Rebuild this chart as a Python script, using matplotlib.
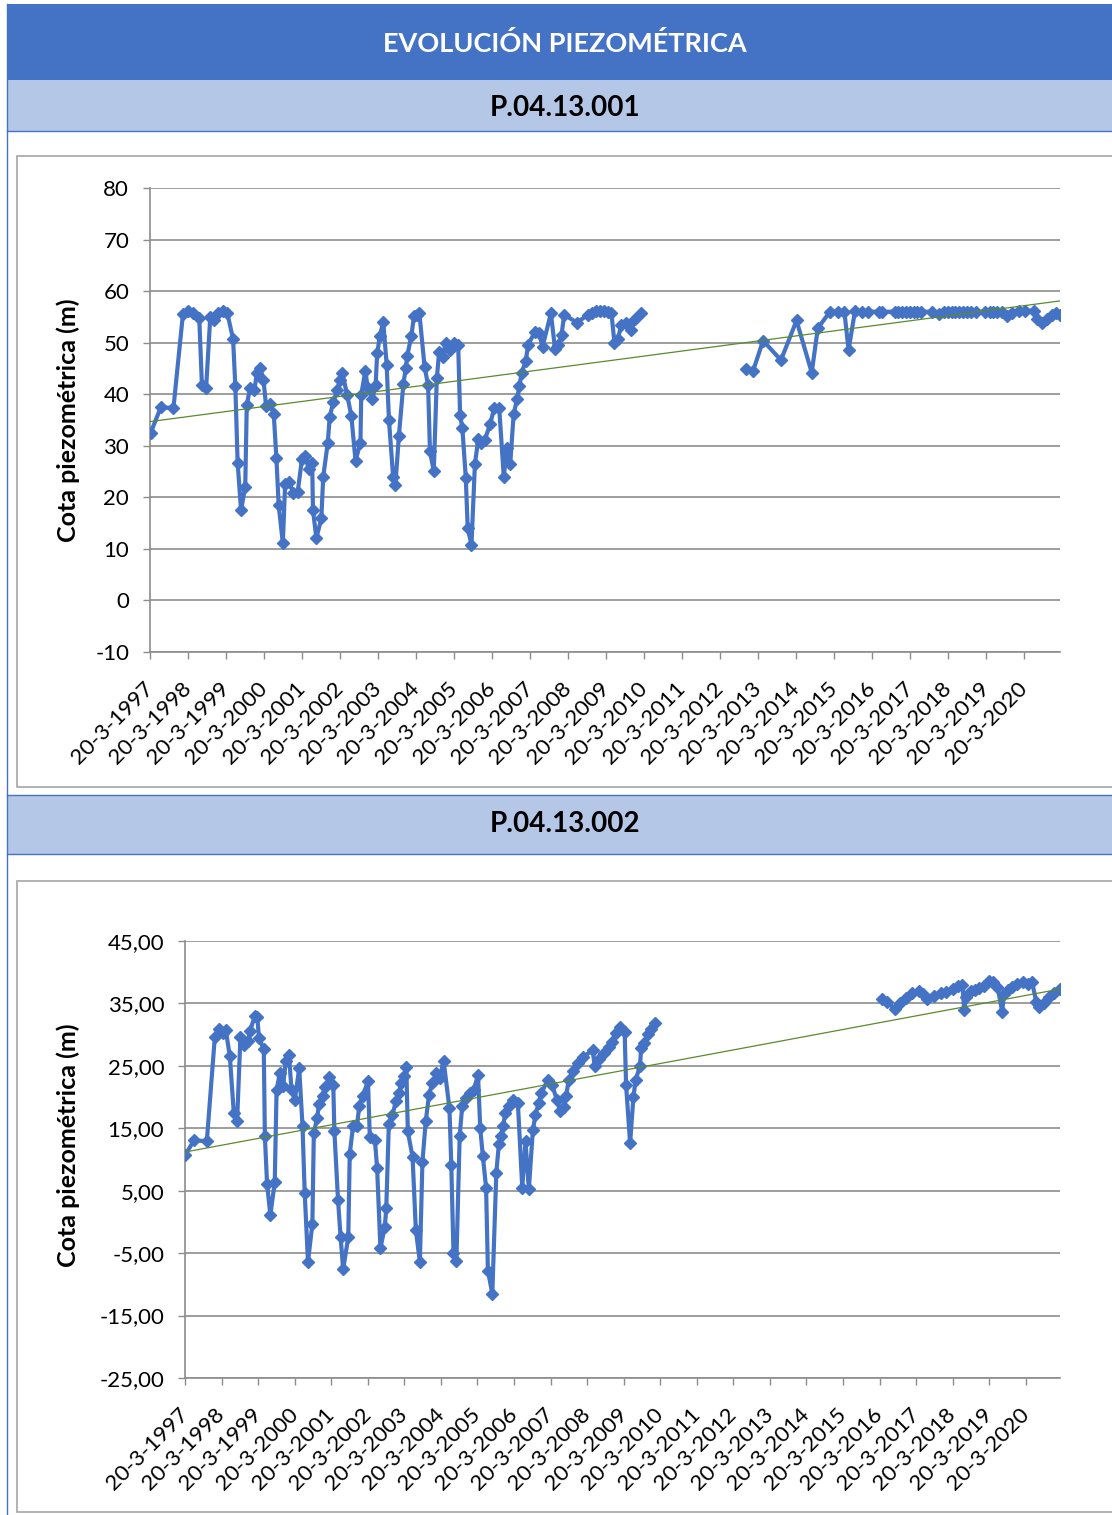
import numpy as np
import pandas as pd
import matplotlib
matplotlib.use("Agg")
import matplotlib.pyplot as plt
from matplotlib.patches import Rectangle

plt.rcParams['font.family'] = ['Lato', 'DejaVu Sans']

titulo = "EVOLUCIÓN PIEZOMÉTRICA"
pozos = ["P.04.13.001", "P.04.13.002"]
etiqueta_y = "Cota piezométrica (m)"

# fechas en año decimal (nan = hueco sin datos)
anos_1 = [1997.23, 1997.50, 1997.83, 1998.08, 1998.22, 1998.34, 1998.51, 1998.58, 1998.69, 1998.80,
          1998.90, 1998.99, 1999.13, 1999.25, 1999.40, 1999.46, 1999.52, 1999.61, 1999.72, 1999.76,
          1999.85, 1999.96, 2000.03, 2000.10, 2000.20, 2000.27, 2000.38, 2000.47, 2000.54, 2000.60,
          2000.71, 2000.77, 2000.86, 2000.99, 2001.10, 2001.21, 2001.30, 2001.39, 2001.48, 2001.50,
          2001.59, 2001.72, 2001.77, 2001.89, 2001.94, 2002.03, 2002.14, 2002.21, 2002.27, 2002.40,
          2002.51, 2002.62, 2002.75, 2002.77, 2002.88, 2002.94, 2003.06, 2003.15, 2003.19, 2003.26,
          2003.35, 2003.44, 2003.50, 2003.61, 2003.67, 2003.76, 2003.88, 2003.94, 2003.98, 2004.09,
          2004.16, 2004.23, 2004.30, 2004.44, 2004.53, 2004.58, 2004.68, 2004.76, 2004.82, 2004.91,
          2004.99, 2005.11, 2005.21, 2005.32, 2005.37, 2005.43, 2005.52, 2005.57, 2005.67, 2005.76,
          2005.85, 2005.93, 2006.02, 2006.16, 2006.27, 2006.40, 2006.52, 2006.60, 2006.69, 2006.78,
          2006.87, 2006.93, 2006.99, 2007.10, 2007.16, 2007.34, 2007.45, 2007.54, 2007.76, 2007.87,
          2007.95, 2008.04, 2008.11, 2008.45, 2008.73, 2008.85, 2008.95, 2009.05, 2009.15, 2009.25,
          2009.35, 2009.43, 2009.52, 2009.61, 2009.74, 2009.87, 2009.98, 2010.14,
          2011.50,
          2012.88, 2013.08, 2013.34, 2013.81, 2014.22, 2014.62, 2014.78, 2015.10, 2015.32, 2015.48,
          2015.59, 2015.76, 2015.94, 2016.11, 2016.38, 2016.46, 2016.81, 2016.90, 2017.00, 2017.10,
          2017.20, 2017.30, 2017.40, 2017.50, 2017.77, 2017.96, 2018.09, 2018.20, 2018.30, 2018.40,
          2018.50, 2018.60, 2018.70, 2018.80, 2018.93, 2019.19, 2019.30, 2019.40, 2019.50, 2019.63,
          2019.76, 2019.89, 2020.07, 2020.24, 2020.47, 2020.55, 2020.68, 2020.82, 2020.95, 2021.05,
          2021.15]
cota_1 = [32.5, 37.5, 37.3, 55.5, 56.2, 55.7, 54.7, 41.8, 41.2, 55.0,
          54.4, 55.7, 56.2, 55.7, 50.7, 41.5, 26.7, 17.5, 22.1, 37.9,
          41.3, 40.8, 44.2, 45.0, 42.8, 37.7, 38.1, 36.2, 27.7, 18.5,
          11.1, 22.6, 23.0, 20.9, 21.1, 27.4, 28.0, 25.4, 26.6, 17.5,
          12.1, 15.9, 24.0, 30.6, 35.5, 38.4, 40.8, 42.8, 44.2, 39.9,
          35.8, 27.1, 30.6, 39.9, 44.6, 41.2, 39.0, 41.8, 47.9, 51.2,
          54.1, 45.7, 35.0, 24.0, 22.4, 31.8, 42.0, 45.0, 47.4, 51.3,
          55.2, 55.3, 55.8, 45.2, 41.8, 28.9, 25.1, 43.1, 48.1, 47.2,
          49.9, 48.6, 50.0, 49.6, 36.0, 33.4, 23.8, 14.0, 10.8, 26.5,
          31.3, 30.6, 31.1, 34.2, 37.3, 37.3, 24.0, 29.5, 26.5, 36.2,
          39.0, 41.5, 44.1, 46.5, 49.6, 52.1, 51.8, 49.2, 55.7, 48.7,
          49.6, 51.5, 55.4, 53.9, 55.4, 55.8, 56.2, 56.2, 56.2, 56.0,
          55.8, 50.0, 50.7, 53.4, 53.9, 52.5, 54.5, 55.8,
          np.nan,
          44.8, 44.6, 50.4, 46.6, 54.3, 44.2, 52.8, 56.0, 56.0, 56.0,
          48.6, 56.2, 56.0, 56.0, 56.0, 56.0, 56.0, 56.0, 56.0, 56.0,
          56.0, 56.0, 56.0, 56.0, 56.0, 55.5, 56.0, 56.0, 56.0, 56.0,
          56.0, 56.0, 56.0, 56.0, 56.0, 56.0, 56.0, 56.0, 56.0, 56.0,
          55.2, 55.7, 56.2, 56.2, 56.2, 54.5, 53.9, 54.5, 55.4, 55.7,
          55.4]

anos_2 = [1997.22, 1997.46, 1997.81, 1998.03, 1998.15, 1998.26, 1998.33, 1998.44, 1998.55, 1998.64,
          1998.73, 1998.83, 1998.94, 1998.99, 1999.13, 1999.19, 1999.24, 1999.37, 1999.40, 1999.46,
          1999.55, 1999.67, 1999.72, 1999.81, 1999.90, 1999.97, 2000.06, 2000.13, 2000.22, 2000.34,
          2000.43, 2000.49, 2000.58, 2000.70, 2000.74, 2000.83, 2000.88, 2000.98, 2001.04, 2001.16,
          2001.27, 2001.30, 2001.40, 2001.47, 2001.54, 2001.68, 2001.72, 2001.81, 2001.92, 2001.98,
          2002.07, 2002.22, 2002.27, 2002.41, 2002.47, 2002.56, 2002.68, 2002.72, 2002.79, 2002.89,
          2002.98, 2003.07, 2003.13, 2003.20, 2003.27, 2003.31, 2003.44, 2003.53, 2003.64, 2003.71,
          2003.80, 2003.89, 2003.98, 2004.09, 2004.18, 2004.29, 2004.45, 2004.50, 2004.56, 2004.64,
          2004.73, 2004.80, 2004.89, 2005.00, 2005.11, 2005.23, 2005.29, 2005.36, 2005.45, 2005.50,
          2005.62, 2005.73, 2005.80, 2005.86, 2005.91, 2005.98, 2006.08, 2006.19, 2006.32, 2006.44,
          2006.53, 2006.62, 2006.73, 2006.80, 2006.89, 2006.96, 2007.14, 2007.26, 2007.39, 2007.48,
          2007.57, 2007.64, 2007.71, 2007.84, 2007.96, 2008.10, 2008.37, 2008.42, 2008.55, 2008.69,
          2008.81, 2008.90, 2009.01, 2009.12, 2009.24, 2009.28, 2009.39, 2009.48, 2009.54, 2009.66,
          2009.69, 2009.78, 2009.87, 2009.96, 2010.08,
          2013.00,
          2016.28, 2016.43, 2016.64, 2016.77, 2016.93, 2017.11, 2017.28, 2017.41, 2017.52, 2017.71,
          2017.89, 2018.04, 2018.21, 2018.37, 2018.48, 2018.53, 2018.59, 2018.71, 2018.83, 2018.94,
          2019.07, 2019.21, 2019.32, 2019.44, 2019.57, 2019.62, 2019.73, 2019.84, 2019.98, 2020.14,
          2020.28, 2020.39, 2020.50, 2020.57, 2020.71, 2020.85, 2020.98, 2021.15]
cota_2 = [10.7, 13.1, 12.9, 29.6, 30.9, 30.3, 30.7, 26.6, 17.4, 16.2,
          29.6, 28.3, 29.0, 30.6, 33.0, 32.9, 29.4, 27.7, 13.7, 6.1,
          1.1, 6.4, 21.1, 23.9, 21.8, 25.7, 26.7, 21.1, 19.6, 24.6,
          15.4, 4.7, -6.4, -0.3, 14.3, 16.6, 18.9, 20.2, 21.6, 23.2,
          21.9, 14.5, 3.5, -2.4, -7.6, -2.4, 10.9, 15.3, 15.4, 18.6,
          20.1, 22.5, 13.6, 13.1, 8.6, -4.2, -0.8, 2.2, 15.7, 17.1,
          19.3, 20.6, 22.2, 23.3, 24.8, 14.5, 10.4, -1.3, -6.4, 9.6,
          16.1, 20.3, 22.3, 23.8, 23.0, 25.8, 18.2, 9.1, -4.9, -6.2,
          13.8, 18.6, 19.8, 20.6, 21.2, 23.5, 15.0, 10.6, 5.5, -7.8,
          -11.5, 7.9, 12.5, 13.8, 15.3, 17.5, 18.6, 19.5, 19.1, 5.5,
          12.9, 5.2, 14.7, 17.1, 19.1, 20.6, 22.8, 21.9, 19.5, 17.7,
          18.4, 20.1, 22.7, 24.2, 25.4, 26.4, 27.5, 25.0, 26.1, 27.0,
          28.1, 28.9, 30.3, 31.3, 30.5, 21.9, 12.6, 20.0, 22.7, 25.0,
          27.8, 28.7, 30.1, 30.9, 31.9,
          np.nan,
          35.7, 35.2, 34.1, 35.0, 35.9, 36.6, 37.0, 36.5, 35.7, 36.2,
          36.6, 36.8, 37.3, 37.8, 38.0, 34.0, 36.1, 37.0, 37.2, 37.4,
          37.8, 38.6, 38.4, 37.7, 33.7, 36.5, 37.2, 37.7, 38.1, 38.4,
          38.1, 38.4, 35.3, 34.5, 35.0, 36.1, 36.6, 37.3]

# linea de tendencia (valor inicial y final leidos)
tendencia_1 = [34.7, 58.1]
tendencia_2 = [11.2, 37.3]

y_ticks_1 = list(range(-10, 81, 10))
y_ticks_2 = list(range(-25, 46, 10))
anos_ticks = list(range(1997, 2021))


def a_fecha(a):
    base = int(a)
    return pd.Timestamp(year=base, month=1, day=1) + pd.Timedelta(days=(a - base) * 365.25)


AZUL = "#4472C4"
AZUL_CLARO = "#B4C7E7"
GRIS = "#8C8C8C"
VERDE = "#5A8A2E"

W, H = 1112, 1515
fig = plt.figure(figsize=(W / 100, H / 100), dpi=100)
fig.patch.set_facecolor("white")

fondo = fig.add_axes([0, 0, 1, 1], zorder=0)
fondo.set_xlim(0, W)
fondo.set_ylim(H, 0)
fondo.axis("off")

# cabeceras
fondo.add_patch(Rectangle((7, 4), W - 7, 76, facecolor=AZUL, edgecolor="none"))
fondo.text(565, 44, titulo, color="white", fontsize=19.5, fontweight="bold", ha="center", va="center")
fondo.add_patch(Rectangle((7, 80), W - 7, 51, facecolor=AZUL_CLARO, edgecolor="none"))
fondo.plot([7, W], [131, 131], color=AZUL, lw=1)
fondo.text(565, 108, pozos[0], color="black", fontsize=20, fontweight="bold", ha="center", va="center")
fondo.add_patch(Rectangle((7, 795), W - 7, 59, facecolor=AZUL_CLARO, edgecolor="none"))
fondo.plot([7, W], [795, 795], color=AZUL, lw=1)
fondo.plot([7, W], [854, 854], color=AZUL, lw=1)
fondo.text(565, 824, pozos[1], color="black", fontsize=20, fontweight="bold", ha="center", va="center")
fondo.plot([7, 7], [4, H], color=AZUL, lw=1)

# marcos de los graficos
fondo.add_patch(Rectangle((17, 156), W, 631, facecolor="white", edgecolor="#A6A6A6", lw=1.2))
fondo.add_patch(Rectangle((17, 881), W, 631, facecolor="white", edgecolor="#A6A6A6", lw=1.2))
fondo.text(68, 420, etiqueta_y, rotation=90, fontsize=18, fontweight="bold", ha="center", va="center")
fondo.text(68, 1145, etiqueta_y, rotation=90, fontsize=18, fontweight="bold", ha="center", va="center")


def grafico(pos, anos, cota, tendencia, yticks, fmt):
    ax = fig.add_axes(pos, zorder=1)
    ax.set_facecolor("none")
    fechas = [a_fecha(a) for a in anos]
    ax.plot(fechas, cota, color=AZUL, lw=3.0, marker="D", ms=6.5, zorder=3)
    validas = [f for f, c in zip(fechas, cota) if not np.isnan(c)]
    ax.plot([validas[0], validas[-1]], tendencia, color=VERDE, lw=0.9, zorder=4)
    ax.set_xlim(a_fecha(1997.214), validas[-1])
    ax.set_ylim(yticks[0], yticks[-1])
    ax.set_yticks(yticks)
    ax.set_yticklabels([fmt(v) for v in yticks])
    ax.set_xticks([pd.Timestamp(year=a, month=3, day=20) for a in anos_ticks])
    ax.set_xticklabels([f"20-3-{a}" for a in anos_ticks], rotation=45, ha="right", va="center",
                       rotation_mode="anchor")
    ax.grid(axis="y", color=GRIS, lw=1.2)
    ax.set_axisbelow(True)
    for lado in ["top", "right"]:
        ax.spines[lado].set_visible(False)
    for lado in ["left", "bottom"]:
        ax.spines[lado].set_color(GRIS)
        ax.spines[lado].set_linewidth(1.2)
    ax.tick_params(axis="y", length=5, color=GRIS, width=1, labelsize=16, pad=10)
    ax.tick_params(axis="x", length=5, color=GRIS, width=1, labelsize=16, pad=19)
    return ax


grafico([150 / W, 1 - 652 / H, 910 / W, 464 / H], anos_1, cota_1, tendencia_1, y_ticks_1,
        lambda v: f"{v}")
grafico([185 / W, 1 - 1378 / H, 875 / W, 437 / H], anos_2, cota_2, tendencia_2, y_ticks_2,
        lambda v: f"{v:.2f}".replace(".", ","))

fig.savefig("out.png", dpi=100)
